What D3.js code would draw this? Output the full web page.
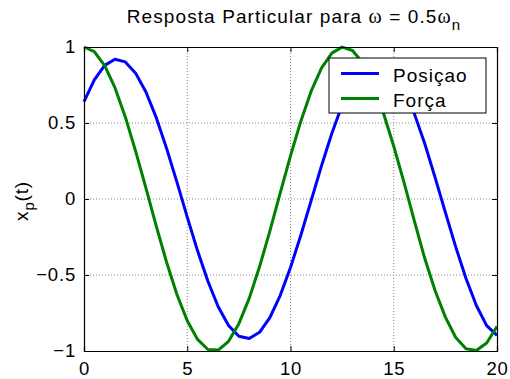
<!DOCTYPE html>
<html lang="en">
<head>
  <meta charset="UTF-8">
  <script src="https://d3js.org/d3.v7.min.js"></script>
  <title>Resposta Particular</title>
  <style>
    body { margin: 0; background: white; font-family: "Liberation Sans", Arial, sans-serif; }
    svg text { fill: #000; }
  </style>
</head>
<body>
<div id="chart"></div>
<script>
  // time samples (s)
  var tVals = [0, 0.5, 1, 1.5, 2, 2.5, 3, 3.5, 4, 4.5, 5, 5.5, 6, 6.5, 7, 7.5, 8, 8.5, 9, 9.5,
    10, 10.5, 11, 11.5, 12, 12.5, 13, 13.5, 14, 14.5, 15, 15.5, 16, 16.5, 17, 17.5, 18, 18.5, 19, 19.5, 20];
  // position (blue)
  var posicao = [0.641, 0.784, 0.879, 0.919, 0.902, 0.828, 0.704, 0.535, 0.333, 0.111, -0.119,
    -0.341, -0.541, -0.709, -0.832, -0.903, -0.918, -0.877, -0.780, -0.635, -0.451, -0.239,
    -0.011, 0.218, 0.431, 0.618, 0.768, 0.872, 0.917, 0.902, 0.841, 0.720, 0.560, 0.365,
    0.142, -0.088, -0.315, -0.523, -0.701, -0.833, -0.897];
  // force (green)
  var forca = [1, 0.969, 0.878, 0.732, 0.540, 0.315, 0.071, -0.178, -0.416, -0.628, -0.801,
    -0.924, -0.990, -0.994, -0.936, -0.820, -0.654, -0.446, -0.211, 0.038, 0.284, 0.512,
    0.709, 0.861, 0.960, 0.999, 0.977, 0.896, 0.754, 0.566, 0.347, 0.108, -0.146, -0.390,
    -0.602, -0.777, -0.911, -0.985, -0.997, -0.947, -0.839];
  var xTicks = [0, 5, 10, 15, 20];
  var yTicks = [-1, -0.5, 0, 0.5, 1];
  var seriesNames = ["Posiçao", "Força"];
  var seriesColors = ["#0000ff", "#008000"];

  var W = 510, H = 379;
  var margin = { top: 47, right: 13, bottom: 28, left: 84 },
    width = W - margin.left - margin.right,
    height = H - margin.top - margin.bottom;
  var FONT = "'Liberation Sans', Arial, sans-serif";

  var svg = d3.select("#chart").append("svg")
    .attr("width", W).attr("height", H);

  var g = svg.append("g")
    .attr("transform", "translate(" + margin.left + "," + margin.top + ")");

  var x = d3.scaleLinear().domain([0, 20]).range([0, width]);
  var y = d3.scaleLinear().domain([-1, 1]).range([height, 0]);

  // dotted grid
  g.selectAll(".gx").data(xTicks.slice(1, -1)).enter().append("line")
    .attr("x1", d => x(d)).attr("x2", d => x(d))
    .attr("y1", 0).attr("y2", height)
    .attr("stroke", "#888").attr("stroke-width", 1).attr("stroke-dasharray", "1,2");
  g.selectAll(".gy").data(yTicks.slice(1, -1)).enter().append("line")
    .attr("y1", d => y(d)).attr("y2", d => y(d))
    .attr("x1", 0).attr("x2", width)
    .attr("stroke", "#888").attr("stroke-width", 1).attr("stroke-dasharray", "1,2");

  // lines
  var line = d3.line().x(d => x(d[0])).y(d => y(d[1]));
  [posicao, forca].forEach(function (s, i) {
    g.append("path")
      .datum(tVals.map((t, k) => [t, s[k]]))
      .attr("fill", "none")
      .attr("stroke", seriesColors[i])
      .attr("stroke-width", 3)
      .attr("stroke-linejoin", "round")
      .attr("d", line);
  });

  // axes with inward ticks, box on all sides
  var ax = g.append("g").attr("transform", "translate(0," + height + ")")
    .call(d3.axisBottom(x).tickValues(xTicks).tickSize(-5).tickPadding(11));
  var axT = g.append("g")
    .call(d3.axisTop(x).tickValues(xTicks).tickSize(-5).tickFormat(""));
  var ay = g.append("g")
    .call(d3.axisLeft(y).tickValues(yTicks).tickSize(-5).tickPadding(8)
      .tickFormat(d => d === 0 ? "0" : d3.format("")(d)));
  var ayR = g.append("g").attr("transform", "translate(" + width + ",0)")
    .call(d3.axisRight(y).tickValues(yTicks).tickSize(-5).tickFormat(""));
  [ax, axT, ay, ayR].forEach(function (a) {
    a.select(".domain").attr("stroke", "#000").attr("stroke-width", 1.2);
    a.selectAll(".tick line").attr("stroke", "#000");
    a.selectAll("text").attr("font-family", FONT)
      .attr("font-size", 18.5).attr("letter-spacing", 0.8).attr("fill", "#000");
  });

  // title
  var title = svg.append("text")
    .attr("x", 294).attr("y", 23)
    .attr("text-anchor", "middle")
    .attr("font-family", FONT)
    .attr("font-size", 19).attr("letter-spacing", 1.1);
  title.append("tspan").text("Resposta Particular para ");
  title.append("tspan").attr("font-family", "'Liberation Serif', serif").attr("font-size", 20).text("ω");
  title.append("tspan").text(" = 0.5");
  title.append("tspan").attr("font-family", "'Liberation Serif', serif").attr("font-size", 20).text("ω");
  title.append("tspan").attr("dy", 7).attr("font-size", 15).text("n");

  // y label
  var yl = svg.append("text")
    .attr("transform", "translate(28," + 201 + ") rotate(-90)")
    .attr("text-anchor", "middle")
    .attr("font-family", FONT)
    .attr("font-size", 19).attr("letter-spacing", 0.8);
  yl.append("tspan").text("x");
  yl.append("tspan").attr("dy", 6).attr("font-size", 15).text("p");
  yl.append("tspan").attr("dy", -6).text("(t)");

  // legend
  var lg = svg.append("g").attr("transform", "translate(329,58)");
  lg.append("rect").attr("width", 157).attr("height", 55)
    .attr("fill", "#fff").attr("stroke", "#000").attr("stroke-width", 1);
  seriesNames.forEach(function (n, i) {
    var yy = 15.5 + i * 25;
    lg.append("line").attr("x1", 12).attr("x2", 50).attr("y1", yy).attr("y2", yy)
      .attr("stroke", seriesColors[i]).attr("stroke-width", 3);
    lg.append("text").attr("x", 64).attr("y", yy + 8)
      .attr("font-family", FONT)
      .attr("font-size", 19).attr("letter-spacing", 1).text(n);
  });
</script>
</body>
</html>
